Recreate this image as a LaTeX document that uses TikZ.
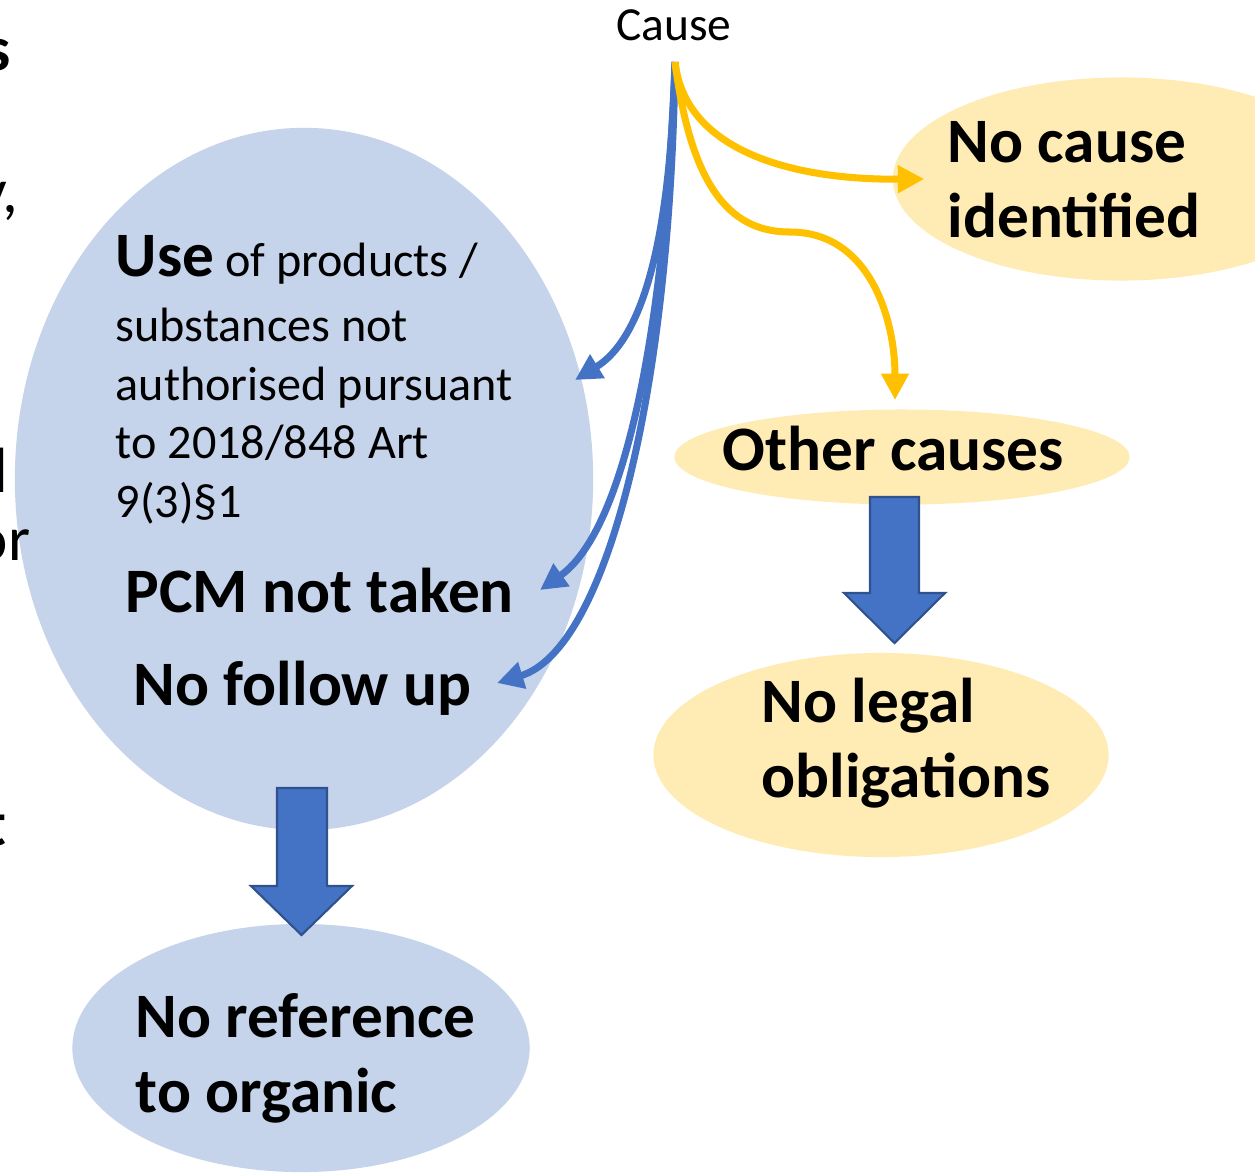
\documentclass[tikz,border=0pt]{standalone}
\usepackage{fontspec}
\setmainfont{Carlito}
\usetikzlibrary{arrows.meta,positioning,shapes.geometric}
\definecolor{causeblue}{RGB}{68,114,196}
\definecolor{edgeblue}{RGB}{47,82,143}
\definecolor{paleblue}{RGB}{197,211,235}
\definecolor{causegold}{RGB}{255,192,0}
\definecolor{palegold}{RGB}{255,235,180}
\tikzset{
  bubble/.style={ellipse,inner sep=0pt},
  bluebubble/.style={bubble,fill=paleblue},
  goldbubble/.style={bubble,fill=palegold},
  bigtext/.style={font=\fontsize{18}{21.3}\selectfont\bfseries,align=left,
    anchor=base west,inner sep=0pt},
  smalltext/.style={font=\fontsize{13.7}{16.6}\selectfont,align=left,
    anchor=base west,inner sep=0pt},
  bluearrow/.style={-{Triangle[length=7.5pt,width=7.5pt]},line width=2pt,draw=causeblue},
  goldarrow/.style={-{Triangle[length=7.5pt,width=7.5pt]},line width=2pt,draw=causegold},
  blockarrow/.style={fill=causeblue,draw=edgeblue,line width=0.6pt,line join=miter}
}

\begin{document}
\begin{tikzpicture}[x=0.01cm,y=-0.01cm]
  \useasboundingbox (0,0) rectangle (1255,1172);
  % bubbles
  \node[bluebubble,minimum width=5.78cm,minimum height=7.02cm] (use) at (304,479) {};
  \node[bluebubble,minimum width=4.57cm,minimum height=2.48cm] (noref) at (301,1048) {};
  \node[goldbubble,minimum width=4.56cm,minimum height=2.03cm] (nocause) at (1121,179) {};
  \node[goldbubble,minimum width=4.55cm,minimum height=0.95cm] (other) at (902,457) {};
  \node[goldbubble,minimum width=4.55cm,minimum height=2.04cm] (nolegal) at (881,755) {};
  % block arrows
  \draw[blockarrow] (277,788) -- ++(50,0) -- ++(0,98) -- ++(25,0) -- (301.5,935)
    -- (251,886) -- ++(26,0) -- cycle;
  \draw[blockarrow] (870,497) -- ++(49,0) -- ++(0,96) -- ++(26,0) -- (894.5,643)
    -- (844,593) -- ++(26,0) -- cycle;
  % texts (base = last line)
  \node[font=\fontsize{13.5}{16}\selectfont,anchor=base,inner sep=0pt] (cause) at (674,40) {Cause};
  \node[bigtext] (nocausetxt) at (947,237) {No cause\\identified};
  \node[bigtext] (othertxt) at (722,470) {Other causes};
  \node[bigtext] (nolegaltxt) at (761,797) {No legal\\obligations};
  \node[bigtext] (noreftxt) at (135,1112) {No reference\\to organic};
  \node[smalltext] (usetxt) at (115,517)
    {{\fontsize{18}{21.3}\selectfont\bfseries Use} of products /\\[2pt]substances not\\
     authorised pursuant\\to 2018/848 Art\\9(3)§1};
  \node[bigtext] (pcm) at (125,612) {PCM not taken};
  \node[bigtext] (follow) at (133,705) {No follow up};
  % cut text at the left edge
  \node[bigtext,anchor=base east] (fs) at (11,70) {s};
  \node[smalltext,font=\fontsize{18}{21.3}\selectfont,anchor=base east] (fy) at (19,212) {y,};
  \node[bigtext,anchor=base east] (fd) at (8,492) {d};
  \node[smalltext,font=\fontsize{18}{21.3}\selectfont,anchor=base east] (for) at (31,560) {or};
  \node[bigtext,anchor=base east] (ft) at (7,845) {t};
  % curved arrows
  \coordinate (src) at (675,62);
  \coordinate (tipa) at (575,380);
  \coordinate (tipb) at (540,590);
  \coordinate (tipc) at (497,683);
  \coordinate (tipd) at ([xshift=0.32cm]nocause.west);
  \coordinate (bend) at (790,232);
  \coordinate (tipe) at (895,400);
  \draw[bluearrow] (src) .. controls (670,250) and (640,340) .. (tipa);
  \draw[bluearrow] (src) .. controls (665,330) and (625,530) .. (tipb);
  \draw[bluearrow] (src) .. controls (670,400) and (605,650) .. (tipc);
  \draw[goldarrow] (src) .. controls (685,150) and (790,180) .. (tipd);
  \draw[goldarrow] (src) .. controls (692,195) and (735,232) .. (bend)
    .. controls (870,232) and (895,320) .. (tipe);
\end{tikzpicture}
\end{document}
